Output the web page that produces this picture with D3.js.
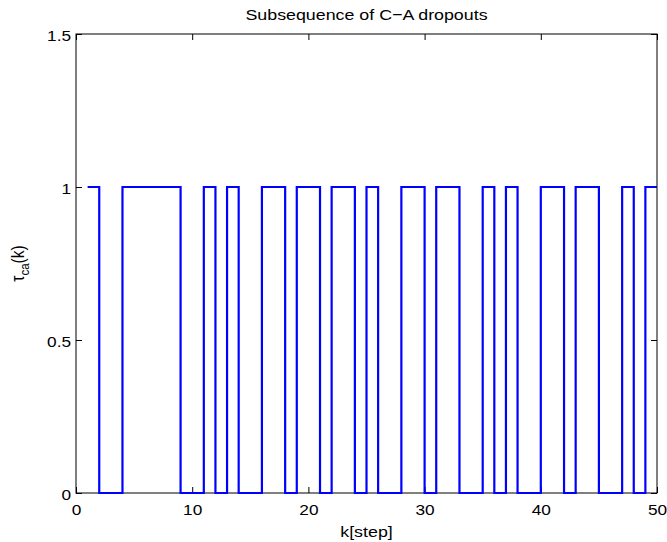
<!DOCTYPE html>
<html>
<head>
<meta charset="utf-8">
<script src="https://cdn.jsdelivr.net/npm/d3@7"></script>
<style>
  body { margin: 0; background: #fff; }
  svg { display: block; font-family: "Liberation Sans", Arial, sans-serif; }
  .axis text { font-size: 15px; fill: #000; }
  .axis line { stroke: #000; }
  .axis .domain { display: none; }
</style>
</head>
<body>
<div id="chart"></div>
<script>
// step index k and the dropout indicator tau_ca(k)
const steps = d3.range(1, 51);
const tauValues = [
  1, 0, 0, 1, 1, 1, 1, 1, 0, 0,
  1, 0, 1, 0, 0, 1, 1, 0, 1, 1,
  0, 1, 1, 0, 1, 0, 0, 1, 1, 0,
  1, 1, 0, 0, 1, 0, 1, 0, 0, 1,
  1, 0, 1, 1, 0, 0, 1, 0, 1, 1
];
const xTicks = [0, 10, 20, 30, 40, 50];
const yTicks = [0, 0.5, 1, 1.5];

const width = 667, height = 542;
const margin = {top: 34, right: 10, bottom: 49, left: 76};
const innerW = width - margin.left - margin.right;
const innerH = height - margin.top - margin.bottom;
const stretch = 1.15; // the reference text looks a bit wider than tall

const svg = d3.select('#chart').append('svg')
  .attr('width', width)
  .attr('height', height);

const g = svg.append('g')
  .attr('transform', 'translate(' + margin.left + ',' + margin.top + ')');

const x = d3.scaleLinear().domain([0, 50]).range([0, innerW]);
const y = d3.scaleLinear().domain([0, 1.5]).range([innerH, 0]);

const fmt = d => d3.format('')(d);

// inward ticks, matlab style, on all four sides
const xAxis = g.append('g').attr('class', 'axis')
  .attr('transform', 'translate(0,' + innerH + ')')
  .call(d3.axisBottom(x).tickValues(xTicks).tickFormat(fmt).tickSizeInner(-6).tickSizeOuter(0).tickPadding(11));
g.append('g').attr('class', 'axis')
  .call(d3.axisTop(x).tickValues(xTicks).tickFormat(() => '').tickSizeInner(-6).tickSizeOuter(0));
const yAxis = g.append('g').attr('class', 'axis')
  .call(d3.axisLeft(y).tickValues(yTicks).tickFormat(fmt).tickSizeInner(-6).tickSizeOuter(0).tickPadding(0));
g.append('g').attr('class', 'axis')
  .attr('transform', 'translate(' + innerW + ',0)')
  .call(d3.axisRight(y).tickValues(yTicks).tickFormat(() => '').tickSizeInner(-6).tickSizeOuter(0));

xAxis.selectAll('text').attr('transform', 'scale(' + stretch + ',1)');
yAxis.selectAll('text').attr('x', -5 / stretch).attr('dy', '0.4em')
  .attr('transform', 'scale(' + stretch + ',1)');

g.append('rect')
  .attr('width', innerW)
  .attr('height', innerH)
  .attr('fill', 'none')
  .attr('stroke', '#000')
  .attr('stroke-width', 1);

const line = d3.line()
  .x((d, i) => x(steps[i]))
  .y(d => y(d))
  .curve(d3.curveStepAfter);

g.append('path')
  .datum(tauValues)
  .attr('fill', 'none')
  .attr('stroke', '#0000ff')
  .attr('stroke-width', 2.2)
  .attr('d', line);

// title and labels
svg.append('text')
  .attr('transform', 'translate(' + (margin.left + innerW / 2) + ',20) scale(' + stretch + ',1)')
  .attr('text-anchor', 'middle')
  .style('font-size', '15.5px')
  .text('Subsequence of C\u2212A dropouts');

svg.append('text')
  .attr('transform', 'translate(' + (margin.left + innerW / 2) + ',537) scale(' + stretch + ',1)')
  .attr('text-anchor', 'middle')
  .style('font-size', '15.5px')
  .text('k[step]');

const yl = svg.append('text')
  .attr('transform', 'translate(24,' + (margin.top + innerH / 2) + ') rotate(-90) scale(1,' + stretch + ')')
  .attr('text-anchor', 'middle')
  .style('font-size', '15.5px');
yl.append('tspan').text('\u03c4');
yl.append('tspan').attr('dy', 4).style('font-size', '11.5px').text('ca');
yl.append('tspan').attr('dy', -4).text('(k)');
</script>
</body>
</html>
